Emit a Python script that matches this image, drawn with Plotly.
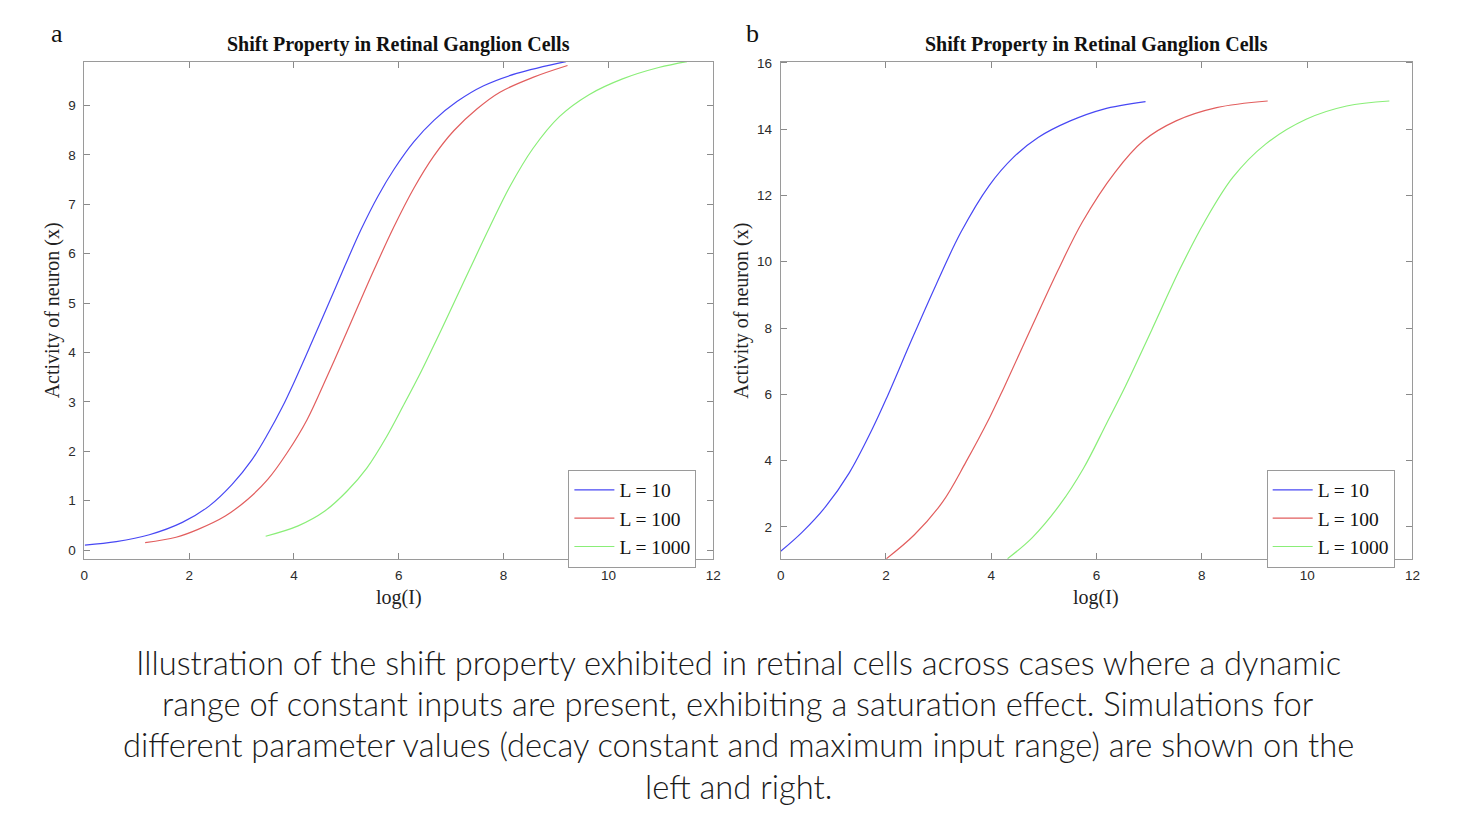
import plotly.graph_objects as go

# panel a: values
a_blue_x = [0.01, 0.61, 1.24, 1.87, 2.38, 2.82, 3.2, 3.51, 3.77, 4.02, 4.33, 4.65, 4.97, 5.28, 5.6, 5.91, 6.29, 6.67, 7.11, 7.62, 8.25, 9.19]
a_blue_y = [0.1, 0.17, 0.31, 0.56, 0.89, 1.33, 1.83, 2.37, 2.88, 3.44, 4.18, 4.96, 5.75, 6.49, 7.16, 7.71, 8.27, 8.70, 9.08, 9.40, 9.65, 9.89]
a_red_x = [1.16, 1.75, 2.17, 2.69, 3.12, 3.5, 3.87, 4.25, 4.63, 5.01, 5.28, 5.53, 5.91, 6.29, 6.67, 7.05, 7.49, 7.93, 8.56, 9.22]
a_red_y = [0.15, 0.26, 0.42, 0.69, 1.03, 1.43, 1.97, 2.64, 3.51, 4.42, 5.08, 5.68, 6.55, 7.33, 7.98, 8.49, 8.93, 9.27, 9.57, 9.81]
a_green_x = [3.46, 4.08, 4.59, 5.01, 5.39, 5.77, 6.08, 6.42, 6.73, 6.98, 7.36, 7.74, 8.12, 8.56, 9.07, 9.63, 10.27, 10.96, 11.5]
a_green_y = [0.28, 0.49, 0.79, 1.19, 1.66, 2.3, 2.91, 3.6, 4.28, 4.84, 5.70, 6.55, 7.36, 8.13, 8.78, 9.22, 9.54, 9.77, 9.89]

# panel b: values
b_blue_x = [0, 0.41, 0.85, 1.3, 1.74, 2.03, 2.49, 2.95, 3.42, 3.96, 4.42, 4.89, 5.5, 6.12, 6.93]
b_blue_y = [1.26, 1.84, 2.6, 3.62, 4.95, 5.95, 7.65, 9.3, 10.88, 12.3, 13.15, 13.75, 14.25, 14.6, 14.83]
b_red_x = [2.01, 2.54, 3.08, 3.52, 3.97, 4.24, 4.73, 5.27, 5.73, 6.35, 6.89, 7.51, 8.28, 9.25]
b_red_y = [1.04, 1.76, 2.76, 3.96, 5.3, 6.2, 7.9, 9.75, 11.2, 12.7, 13.65, 14.25, 14.65, 14.85]
b_green_x = [4.31, 4.77, 5.3, 5.75, 6.19, 6.55, 7.05, 7.59, 8.05, 8.59, 9.21, 9.98, 10.75, 11.56]
b_green_y = [1.04, 1.66, 2.66, 3.76, 5.12, 6.25, 7.95, 9.8, 11.2, 12.55, 13.55, 14.3, 14.7, 14.85]

series_names = ['L = 10', 'L = 100', 'L = 1000']
colors = ['#4848f4', '#e25e5e', '#8aee78']

x_ticks = [0, 2, 4, 6, 8, 10, 12]
a_y_ticks = [0, 1, 2, 3, 4, 5, 6, 7, 8, 9]
b_y_ticks = [2, 4, 6, 8, 10, 12, 14, 16]

title_text = 'Shift Property in Retinal Ganglion Cells'
caption_lines = [
    'Illustration of the shift property exhibited in retinal cells across cases where a dynamic',
    'range of constant inputs are present, exhibiting a saturation effect. Simulations for',
    'different parameter values (decay constant and maximum input range) are shown on the',
    'left and right.',
]

W, H = 1480, 826
serif = 'Liberation Serif'

fig = go.Figure()

a_data = [(a_blue_x, a_blue_y), (a_red_x, a_red_y), (a_green_x, a_green_y)]
b_data = [(b_blue_x, b_blue_y), (b_red_x, b_red_y), (b_green_x, b_green_y)]

for i, (xs, ys) in enumerate(a_data):
    fig.add_trace(go.Scatter(x=xs, y=ys, mode='lines', name=series_names[i],
                             line=dict(color=colors[i], width=1.2, shape='spline', smoothing=1),
                             xaxis='x', yaxis='y', legend='legend'))
for i, (xs, ys) in enumerate(b_data):
    fig.add_trace(go.Scatter(x=xs, y=ys, mode='lines', name=series_names[i],
                             line=dict(color=colors[i], width=1.2, shape='spline', smoothing=1),
                             xaxis='x2', yaxis='y2', legend='legend2'))

def px_x(p):
    return p / W

def px_y(p):
    return 1 - p / H

axis_style = dict(showline=True, linecolor='#9a9a9a', linewidth=1, mirror='ticks',
                  ticks='inside', ticklen=6, tickcolor='#8a8a8a', tickwidth=1,
                  showgrid=False, zeroline=False,
                  tickfont=dict(family='Liberation Sans', size=13.5, color='#2b2b2b'))

legend_style = dict(xanchor='left', yanchor='top', bgcolor='white', bordercolor='#9a9a9a',
                    borderwidth=1, font=dict(family=serif, size=19.5, color='#111111'),
                    itemwidth=40, entrywidth=92)

ydom = [px_y(557), px_y(56)]
fig.update_layout(
    width=W, height=H,
    margin=dict(l=0, r=0, t=0, b=0),
    paper_bgcolor='white', plot_bgcolor='white',
    xaxis=dict(domain=[px_x(81), px_x(715)], range=[0, 12], tickvals=x_ticks, anchor='y',
               ticklabelstandoff=4, **axis_style),
    yaxis=dict(domain=ydom, range=[-0.18, 9.89], tickvals=a_y_ticks, anchor='x',
               ticklabelstandoff=5, **axis_style),
    xaxis2=dict(domain=[px_x(783), px_x(1420)], range=[0, 12], tickvals=x_ticks, anchor='y2',
                ticklabelstandoff=4, **axis_style),
    yaxis2=dict(domain=ydom, range=[1.03, 16.04], tickvals=b_y_ticks, anchor='x2',
                ticklabelstandoff=5, **axis_style),
    legend=dict(x=px_x(569), y=px_y(467), **legend_style),
    legend2=dict(x=px_x(1273), y=px_y(467), **legend_style),
)

anns = []
# titles, panel letters, axis labels
for cx, letter, lx in [(398, 'a', 53), (1101, 'b', 755)]:
    anns.append(dict(text='<b>' + title_text + '</b>', x=px_x(cx), y=px_y(39),
                     font=dict(family=serif, size=20, color='#111111')))
    anns.append(dict(text=letter, x=px_x(lx), y=px_y(28),
                     font=dict(family=serif, size=26, color='#111111')))
    anns.append(dict(text='log(I)', x=px_x(cx), y=px_y(596),
                     font=dict(family=serif, size=20, color='#222222')))
for lx in [49, 744]:
    anns.append(dict(text='Activity of neuron (x)', x=px_x(lx), y=px_y(307), textangle=-90,
                     font=dict(family=serif, size=20, color='#222222')))

# caption lines under the plots
for line, cy in zip(caption_lines, [661, 703, 744, 786]):
    anns.append(dict(text=line, x=0.5, y=px_y(cy),
                     font=dict(family='Lato', size=32.7, weight=300, color='#1a1a1a')))

for a in anns:
    a.update(xref='paper', yref='paper', showarrow=False, xanchor='center', yanchor='middle')

fig.update_layout(annotations=anns)
fig.write_html('out.html', config={'displayModeBar': False},
               post_script="document.body.style.margin='0';document.body.style.overflow='hidden';")
